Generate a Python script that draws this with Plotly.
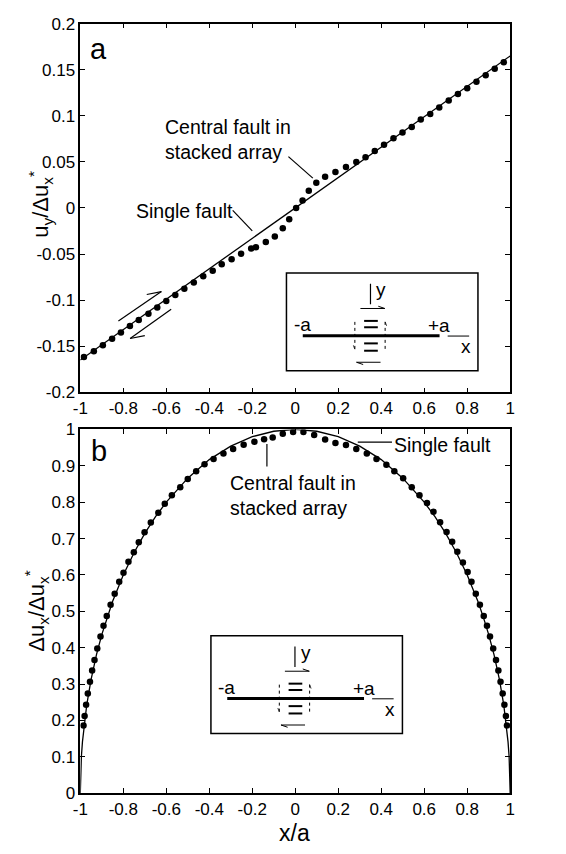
import plotly.graph_objects as go

W, H = 566, 854
FONT = "Liberation Sans, Arial, Helvetica, sans-serif"

# ---------------- data ----------------
# Panel a: u_y / du_x*
xa_line = [-1.0, 1.0]
ya_line = [-0.165, 0.165]
xa_dots = [-0.983, -0.937, -0.895, -0.852, -0.811, -0.769, -0.728, -0.683, -0.642, -0.600,
           -0.558, -0.516, -0.472, -0.428, -0.384, -0.342, -0.296, -0.252, -0.205, -0.183,
           -0.137, -0.095, -0.058, -0.028, 0.004, 0.034, 0.063, 0.098, 0.139, 0.187,
           0.236, 0.284, 0.327, 0.370, 0.413, 0.457, 0.499, 0.542, 0.584, 0.628,
           0.670, 0.714, 0.757, 0.800, 0.843, 0.886, 0.928, 0.970]
ya_dots = [-0.1617, -0.1556, -0.149, -0.142, -0.135, -0.128, -0.1215, -0.1147, -0.108, -0.101,
           -0.0944, -0.0877, -0.081, -0.074, -0.068, -0.061, -0.0557, -0.0496, -0.044, -0.0425,
           -0.037, -0.031, -0.022, -0.0123, 0.0, 0.008, 0.0187, 0.0275, 0.034, 0.039,
           0.0446, 0.050, 0.055, 0.0617, 0.0685, 0.0756, 0.082, 0.088, 0.096, 0.102,
           0.109, 0.1165, 0.1236, 0.130, 0.137, 0.144, 0.151, 0.158]

# Panel b: du_x / du_x*
xb_line = [-1.0, -0.999, -0.995, -0.99, -0.98, -0.97, -0.95, -0.925, -0.9, -0.875, -0.85,
           -0.8, -0.75, -0.7, -0.65, -0.6, -0.5, -0.4, -0.3, -0.2, -0.1, 0.0,
           0.1, 0.2, 0.3, 0.4, 0.5, 0.6, 0.65, 0.7, 0.75, 0.8, 0.85, 0.875, 0.9,
           0.925, 0.95, 0.97, 0.98, 0.99, 0.995, 0.999, 1.0]
yb_line = [0.0, 0.045, 0.100, 0.141, 0.199, 0.243, 0.312, 0.380, 0.436, 0.484, 0.527,
           0.600, 0.661, 0.714, 0.760, 0.800, 0.866, 0.917, 0.954, 0.980, 0.995, 1.0,
           0.995, 0.980, 0.954, 0.917, 0.866, 0.800, 0.760, 0.714, 0.661, 0.600, 0.527, 0.484, 0.436,
           0.380, 0.312, 0.243, 0.199, 0.141, 0.100, 0.045, 0.0]
xb_dots = [-0.985, -0.980, -0.973, -0.965, -0.955, -0.945, -0.934, -0.921, -0.906, -0.892,
           -0.877, -0.859, -0.840, -0.819, -0.799, -0.776, -0.751, -0.728, -0.701, -0.672,
           -0.637, -0.607, -0.574, -0.535, -0.500, -0.461, -0.422, -0.380, -0.334, -0.289,
           -0.240, -0.190, -0.145, -0.105, -0.058, -0.010, 0.038, 0.088, 0.139, 0.187,
           0.236, 0.284, 0.333, 0.378, 0.424, 0.461, 0.502, 0.542, 0.578, 0.613,
           0.643, 0.674, 0.704, 0.730, 0.754, 0.780, 0.802, 0.820, 0.840, 0.859,
           0.877, 0.892, 0.906, 0.921, 0.934, 0.945, 0.955, 0.965, 0.973, 0.980, 0.985]
yb_dots = [0.186, 0.212, 0.243, 0.274, 0.306, 0.337, 0.366, 0.398, 0.431, 0.460,
           0.487, 0.518, 0.548, 0.581, 0.606, 0.636, 0.662, 0.690, 0.717, 0.744,
           0.771, 0.796, 0.819, 0.841, 0.864, 0.885, 0.904, 0.919, 0.934, 0.946,
           0.958, 0.966, 0.973, 0.978, 0.988, 0.993, 0.993, 0.985, 0.972, 0.963,
           0.957, 0.946, 0.934, 0.919, 0.903, 0.885, 0.866, 0.841, 0.819, 0.798,
           0.774, 0.745, 0.718, 0.691, 0.664, 0.634, 0.608, 0.581, 0.548, 0.518,
           0.487, 0.460, 0.431, 0.398, 0.366, 0.337, 0.306, 0.274, 0.243, 0.212, 0.186]

x_ticks = [-1, -0.8, -0.6, -0.4, -0.2, 0, 0.2, 0.4, 0.6, 0.8, 1]
x_tick_text = ["-1", "-0.8", "-0.6", "-0.4", "-0.2", "0", "0.2", "0.4", "0.6", "0.8", "1"]
ya_ticks = [-0.2, -0.15, -0.1, -0.05, 0, 0.05, 0.1, 0.15, 0.2]
ya_tick_text = ["-0.2", "-0.15", "-0.1", "-0.05", "0", "0.05", "0.1", "0.15", "0.2"]
yb_ticks = [0, 0.1, 0.2, 0.3, 0.4, 0.5, 0.6, 0.7, 0.8, 0.9, 1]
yb_tick_text = ["0", "0.1", "0.2", "0.3", "0.4", "0.5", "0.6", "0.7", "0.8", "0.9", "1"]

# ---------------- figure ----------------
fig = go.Figure()
fig.add_trace(go.Scatter(x=xa_line, y=ya_line, mode="lines", line=dict(color="black", width=1.3),
                         xaxis="x", yaxis="y", showlegend=False))
fig.add_trace(go.Scatter(x=xa_dots, y=ya_dots, mode="markers", marker=dict(color="black", size=6.5),
                         xaxis="x", yaxis="y", showlegend=False))
fig.add_trace(go.Scatter(x=xb_line, y=yb_line, mode="lines", line=dict(color="black", width=1.3),
                         xaxis="x2", yaxis="y2", showlegend=False))
fig.add_trace(go.Scatter(x=xb_dots, y=yb_dots, mode="markers", marker=dict(color="black", size=6.5),
                         xaxis="x2", yaxis="y2", showlegend=False))

def px(x):
    return x / W

def py(y):
    return 1 - y / H

XDOM = [px(74), px(514)]

axis_common = dict(showgrid=False, zeroline=False, showline=True, linecolor="black", linewidth=1.5,
                   mirror="ticks", ticks="inside", ticklen=5, tickwidth=1.2, tickcolor="black",
                   tickfont=dict(family=FONT, size=17, color="black"))

fig.update_layout(
    width=W, height=H, margin=dict(l=0, r=0, t=0, b=0),
    paper_bgcolor="white", plot_bgcolor="white",
    xaxis=dict(domain=XDOM, range=[-1, 1], anchor="y", tickvals=x_ticks, ticktext=x_tick_text, **axis_common),
    yaxis=dict(domain=[py(392), py(15)], range=[-0.2, 0.2], anchor="x", tickvals=ya_ticks,
               ticktext=ya_tick_text, **axis_common),
    xaxis2=dict(domain=XDOM, range=[-1, 1], anchor="y2", tickvals=x_ticks, ticktext=x_tick_text, **axis_common),
    yaxis2=dict(domain=[py(802), py(430)], range=[0, 1], anchor="x2", tickvals=yb_ticks,
                ticktext=yb_tick_text, **axis_common),
)

shapes = []
annotations = []

def line(x0, y0, x1, y1, width=1.2, dash="solid"):
    shapes.append(dict(type="line", xref="paper", yref="paper", x0=px(x0), y0=py(y0), x1=px(x1), y1=py(y1),
                       line=dict(color="black", width=width, dash=dash)))

def text(x, y, s, size=19, xanchor="left", yanchor="middle", angle=0, align="left"):
    annotations.append(dict(xref="paper", yref="paper", x=px(x), y=py(y), text=s, showarrow=False,
                            xanchor=xanchor, yanchor=yanchor, textangle=angle, align=align,
                            font=dict(family=FONT, size=size, color="black")))

def inset(bx, by):
    shapes.append(dict(type="rect", xref="paper", yref="paper", x0=px(bx), y0=py(by + 100),
                       x1=px(bx + 196), y1=py(by), line=dict(color="black", width=1.5),
                       fillcolor="white", layer="above"))
    line(bx + 16.7, by + 64.3, bx + 156.7, by + 64.3, width=3)
    for yy in (49, 55.5, 72, 79.5):
        line(bx + 79.5, by + yy, bx + 93.5, by + yy, width=2)
    line(bx + 165, by + 64.5, bx + 187, by + 64.5, width=1)
    line(bx + 86, by + 11, bx + 86, by + 32, width=1.2)
    line(bx + 70, by + 50, bx + 70, by + 78, width=1, dash="dot")
    line(bx + 101, by + 50, bx + 101, by + 78, width=1, dash="dot")
    line(bx + 70, by + 78, bx + 68.5, by + 74, width=0.8)
    line(bx + 101, by + 50, bx + 102.5, by + 54, width=0.8)
    # slip arrows
    line(bx + 75.7, by + 36.3, bx + 100.7, by + 36.3, width=1)
    line(bx + 100.7, by + 36.3, bx + 94, by + 34, width=1)
    line(bx + 96.3, by + 91.3, bx + 71.7, by + 91.3, width=1)
    line(bx + 71.7, by + 91.3, bx + 78.5, by + 93.6, width=1)
    text(bx + 16, by + 53, "-a", size=19, xanchor="center")
    text(bx + 156.5, by + 54, "+a", size=19, xanchor="center")
    text(bx + 183.5, by + 75, "x", size=19, xanchor="center")
    text(bx + 97, by + 17, "y", size=19, xanchor="center")

# ----- panel a decorations -----
text(82, 41, "a", size=29)
text(159, 133, "Central fault in<br>stacked array", size=19.5)
line(287, 151, 312, 173, width=1.2)
text(129, 207, "Single fault", size=19.5)
line(230, 206, 250, 227, width=1.2)
# slip arrows along the fault
line(113, 319, 157, 289, width=1.2)
line(157, 289, 142, 292, width=1.2)
line(167, 307, 125, 337, width=1.2)
line(125, 337, 140, 334, width=1.2)
inset(285, 270)

# ----- panel b decorations -----
text(83, 452, "b", size=29)
text(393, 446, "Single fault", size=19.5)
line(358, 443, 393, 443, width=1.2)
text(225, 497.5, "Central fault in<br>stacked array", size=19.5)
line(265, 445, 265, 468, width=1.2)
inset(207.7, 641)

# ----- axis titles -----
text(33, 200, "u<sub>y</sub>/Δu<sub>x</sub><sup>*</sup>", size=22, xanchor="center", angle=-90)
text(29, 616, "Δu<sub>x</sub>/Δu<sub>x</sub><sup>*</sup>", size=22, xanchor="center", angle=-90)
text(293, 843, "x/a", size=23, xanchor="center")

fig.update_layout(shapes=shapes, annotations=annotations)
fig.write_html("out.html")
